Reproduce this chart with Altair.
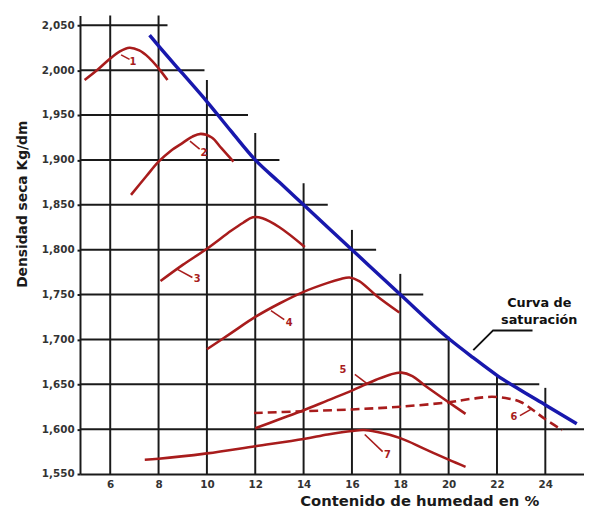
import altair as alt
import pandas as pd

# ---------------- data ----------------
x_domain = [4.75, 25.6]
y_domain = [1550, 2061]

x_ticks = [6, 8, 10, 12, 14, 16, 18, 20, 22, 24]
y_ticks = [1550, 1600, 1650, 1700, 1750, 1800, 1850, 1900, 1950, 2000, 2050]

# staircase grid
hgrid_y = [1600, 1650, 1700, 1750, 1800, 1850, 1900, 1950, 2000, 2050]
hgrid_end = [25.6, 23.75, 20.1, 18.95, 17.0, 15.0, 13.0, 11.7, 9.9, 8.37]
vgrid_x = [6, 8, 10, 12, 14, 16, 18, 20, 22, 24]
vgrid_top = [2061, 2061, 1989, 1930, 1874, 1822, 1773, 1703, 1660, 1646]

# saturation curve
sat_x = [7.63, 8, 9, 10, 11, 12, 13, 14, 16, 18, 20, 21, 22, 23, 24, 25.3]
sat_y = [2039, 2027, 1996, 1965, 1932, 1900, 1875, 1850, 1800, 1750, 1701, 1680, 1660, 1643, 1627, 1606]

# compaction curves
c1_x = [4.94, 5.5, 6, 6.4, 6.8, 7.2, 7.6, 8, 8.37]
c1_y = [1989, 2001, 2013, 2021, 2025, 2022, 2014, 2002, 1989]
c2_x = [6.86, 7.5, 8, 8.5, 9, 9.4, 9.75, 10.2, 10.6, 11.1]
c2_y = [1861, 1882, 1898, 1910, 1919, 1926, 1929, 1925, 1913, 1898]
c3_x = [8.08, 9, 10, 11, 11.5, 11.9, 12.3, 13, 14.05]
c3_y = [1765, 1783, 1801, 1821, 1830, 1836, 1835, 1825, 1803]
c4_x = [10, 11, 12, 13, 14, 15, 15.5, 15.9, 16.3, 17, 17.96]
c4_y = [1689, 1707, 1725, 1740, 1753, 1763, 1767, 1769, 1765, 1749, 1730]
c5_x = [12, 13, 14, 15, 16, 17, 17.6, 18.05, 18.5, 19, 20, 20.7]
c5_y = [1601, 1611, 1621, 1632, 1643, 1655, 1661, 1663, 1659, 1649, 1630, 1617]
c6_x = [11.95, 14, 16, 18, 20, 21, 21.8, 22.5, 23, 23.5, 24, 24.7]
c6_y = [1618, 1620, 1622, 1625, 1630, 1634, 1636, 1634, 1630, 1621, 1611, 1599]
c7_x = [7.43, 8, 10, 12, 14, 15, 16, 16.5, 17, 18, 19, 20, 20.7]
c7_y = [1566, 1567, 1573, 1581, 1589, 1594, 1598, 1599, 1597, 1590, 1578, 1566, 1558]

# curve labels and leader lines
label_names = ["1", "2", "3", "4", "5", "6", "7"]
label_x = [6.94, 9.88, 9.6, 13.4, 15.63, 22.7, 17.47]
label_y = [2009, 1908, 1767, 1718, 1666, 1613, 1571]
lead_x1 = [6.45, 9.3, 8.78, 12.65, 16.12, 23.4, 16.53]
lead_y1 = [2017, 1921, 1778, 1732, 1661, 1622, 1594]
lead_x2 = [6.8, 9.7, 9.4, 13.2, 16.61, 22.95, 17.27]
lead_y2 = [2012, 1912, 1769, 1722, 1651, 1615, 1575]

# saturation annotation
sat_text = ["Curva de", "saturación"]
sat_text_x = [23.75, 23.75]
sat_text_y = [1740, 1721]
sat_lead_x = [23.47, 21.84, 21.02]
sat_lead_y = [1710, 1710, 1688]

RED = "#a81c1c"
BLUE = "#1818ad"
GRID = "#1a1a1a"
FONT = "DejaVu Sans"

# ---------------- tables ----------------
hgrid = pd.DataFrame({"y": hgrid_y, "x1": [x_domain[0]] * len(hgrid_y), "x2": hgrid_end})
vgrid = pd.DataFrame({"x": vgrid_x, "y1": [y_domain[0]] * len(vgrid_x), "y2": vgrid_top})

rows = []
for name, xs_, ys_ in [("1", c1_x, c1_y), ("2", c2_x, c2_y), ("3", c3_x, c3_y),
                       ("4", c4_x, c4_y), ("5", c5_x, c5_y), ("7", c7_x, c7_y)]:
    for i, (a, b) in enumerate(zip(xs_, ys_)):
        rows.append({"curve": name, "i": i, "x": a, "y": b})
solid = pd.DataFrame(rows)
dashed = pd.DataFrame({"x": c6_x, "y": c6_y, "i": list(range(len(c6_x)))})
sat = pd.DataFrame({"x": sat_x, "y": sat_y, "i": list(range(len(sat_x)))})
labels = pd.DataFrame({"t": label_names, "x": label_x, "y": label_y})
leads = pd.DataFrame({"x": lead_x1, "y": lead_y1, "x2": lead_x2, "y2": lead_y2})
stext = pd.DataFrame({"t": sat_text, "x": sat_text_x, "y": sat_text_y})
slead = pd.DataFrame({"x": sat_lead_x, "y": sat_lead_y, "i": [0, 1, 2]})

xs = alt.Scale(domain=x_domain, nice=False, zero=False)
ys = alt.Scale(domain=y_domain, nice=False, zero=False)

x_axis = alt.Axis(values=x_ticks, format="d", ticks=False, labelPadding=6, grid=False,
                  labelFont=FONT, labelFontWeight="bold", labelFontSize=10.5, labelColor="#333",
                  labelFlush=False, domainColor=GRID, domainWidth=2,
                  title="Contenido de humedad en %", titleFont=FONT, titleFontSize=15,
                  titleFontWeight="bold", titleColor="#1a1a1a", titleX=344, titleY=27,
                  titleAlign="center", titleBaseline="middle")
y_axis = alt.Axis(values=y_ticks, format=",.0f", tickSize=3, tickWidth=2, tickColor=GRID,
                  labelPadding=3, grid=False, labelFont=FONT, labelFontWeight="bold",
                  labelFontSize=10.5, labelColor="#333", labelFlush=False, labelOverlap=False,
                  domainColor=GRID, domainWidth=2,
                  title="Densidad seca Kg/dm", titleFont=FONT, titleFontSize=14,
                  titleFontWeight="bold", titleColor="#1a1a1a", titleX=-58, titleY=191,
                  titleAngle=270, titleAlign="center", titleBaseline="middle")

base_axes = alt.Chart(hgrid).mark_rule(color=GRID, strokeWidth=2).encode(
    x=alt.X("x1:Q", scale=xs, axis=x_axis),
    x2="x2:Q",
    y=alt.Y("y:Q", scale=ys, axis=y_axis),
)
vrules = alt.Chart(vgrid).mark_rule(color=GRID, strokeWidth=2).encode(
    x=alt.X("x:Q", scale=xs), y=alt.Y("y1:Q", scale=ys), y2="y2:Q"
)
curves = alt.Chart(solid).mark_line(color=RED, strokeWidth=2.6, interpolate="catmull-rom").encode(
    x=alt.X("x:Q", scale=xs), y=alt.Y("y:Q", scale=ys), detail="curve:N", order="i:Q"
)
curve6 = alt.Chart(dashed).mark_line(color=RED, strokeWidth=2.6, strokeDash=[9, 5],
                                     interpolate="catmull-rom").encode(
    x=alt.X("x:Q", scale=xs), y=alt.Y("y:Q", scale=ys), order="i:Q"
)
satline = alt.Chart(sat).mark_line(color=BLUE, strokeWidth=3.5, interpolate="monotone").encode(
    x=alt.X("x:Q", scale=xs), y=alt.Y("y:Q", scale=ys), order="i:Q"
)
lead_rules = alt.Chart(leads).mark_rule(color=RED, strokeWidth=1.6).encode(
    x=alt.X("x:Q", scale=xs), y=alt.Y("y:Q", scale=ys), x2="x2:Q", y2="y2:Q"
)
label_text = alt.Chart(labels).mark_text(color=RED, font=FONT, fontWeight="bold",
                                         fontSize=10).encode(
    x=alt.X("x:Q", scale=xs), y=alt.Y("y:Q", scale=ys), text="t:N"
)
sat_label = alt.Chart(stext).mark_text(color="#111", font=FONT, fontWeight="bold",
                                       fontSize=13).encode(
    x=alt.X("x:Q", scale=xs), y=alt.Y("y:Q", scale=ys), text="t:N"
)
sat_leader = alt.Chart(slead).mark_line(color="#111", strokeWidth=2).encode(
    x=alt.X("x:Q", scale=xs), y=alt.Y("y:Q", scale=ys), order="i:Q"
)

chart = alt.layer(
    base_axes, vrules, curves, curve6, satline, lead_rules, label_text, sat_label, sat_leader
).properties(
    width=511, height=465,
    autosize=alt.AutoSizeParams(type="none"),
    padding={"left": 73, "top": 4, "right": 0, "bottom": 35},
).configure_view(stroke=None)

chart.save("out.html", embed_options={"renderer": "svg", "actions": False})
